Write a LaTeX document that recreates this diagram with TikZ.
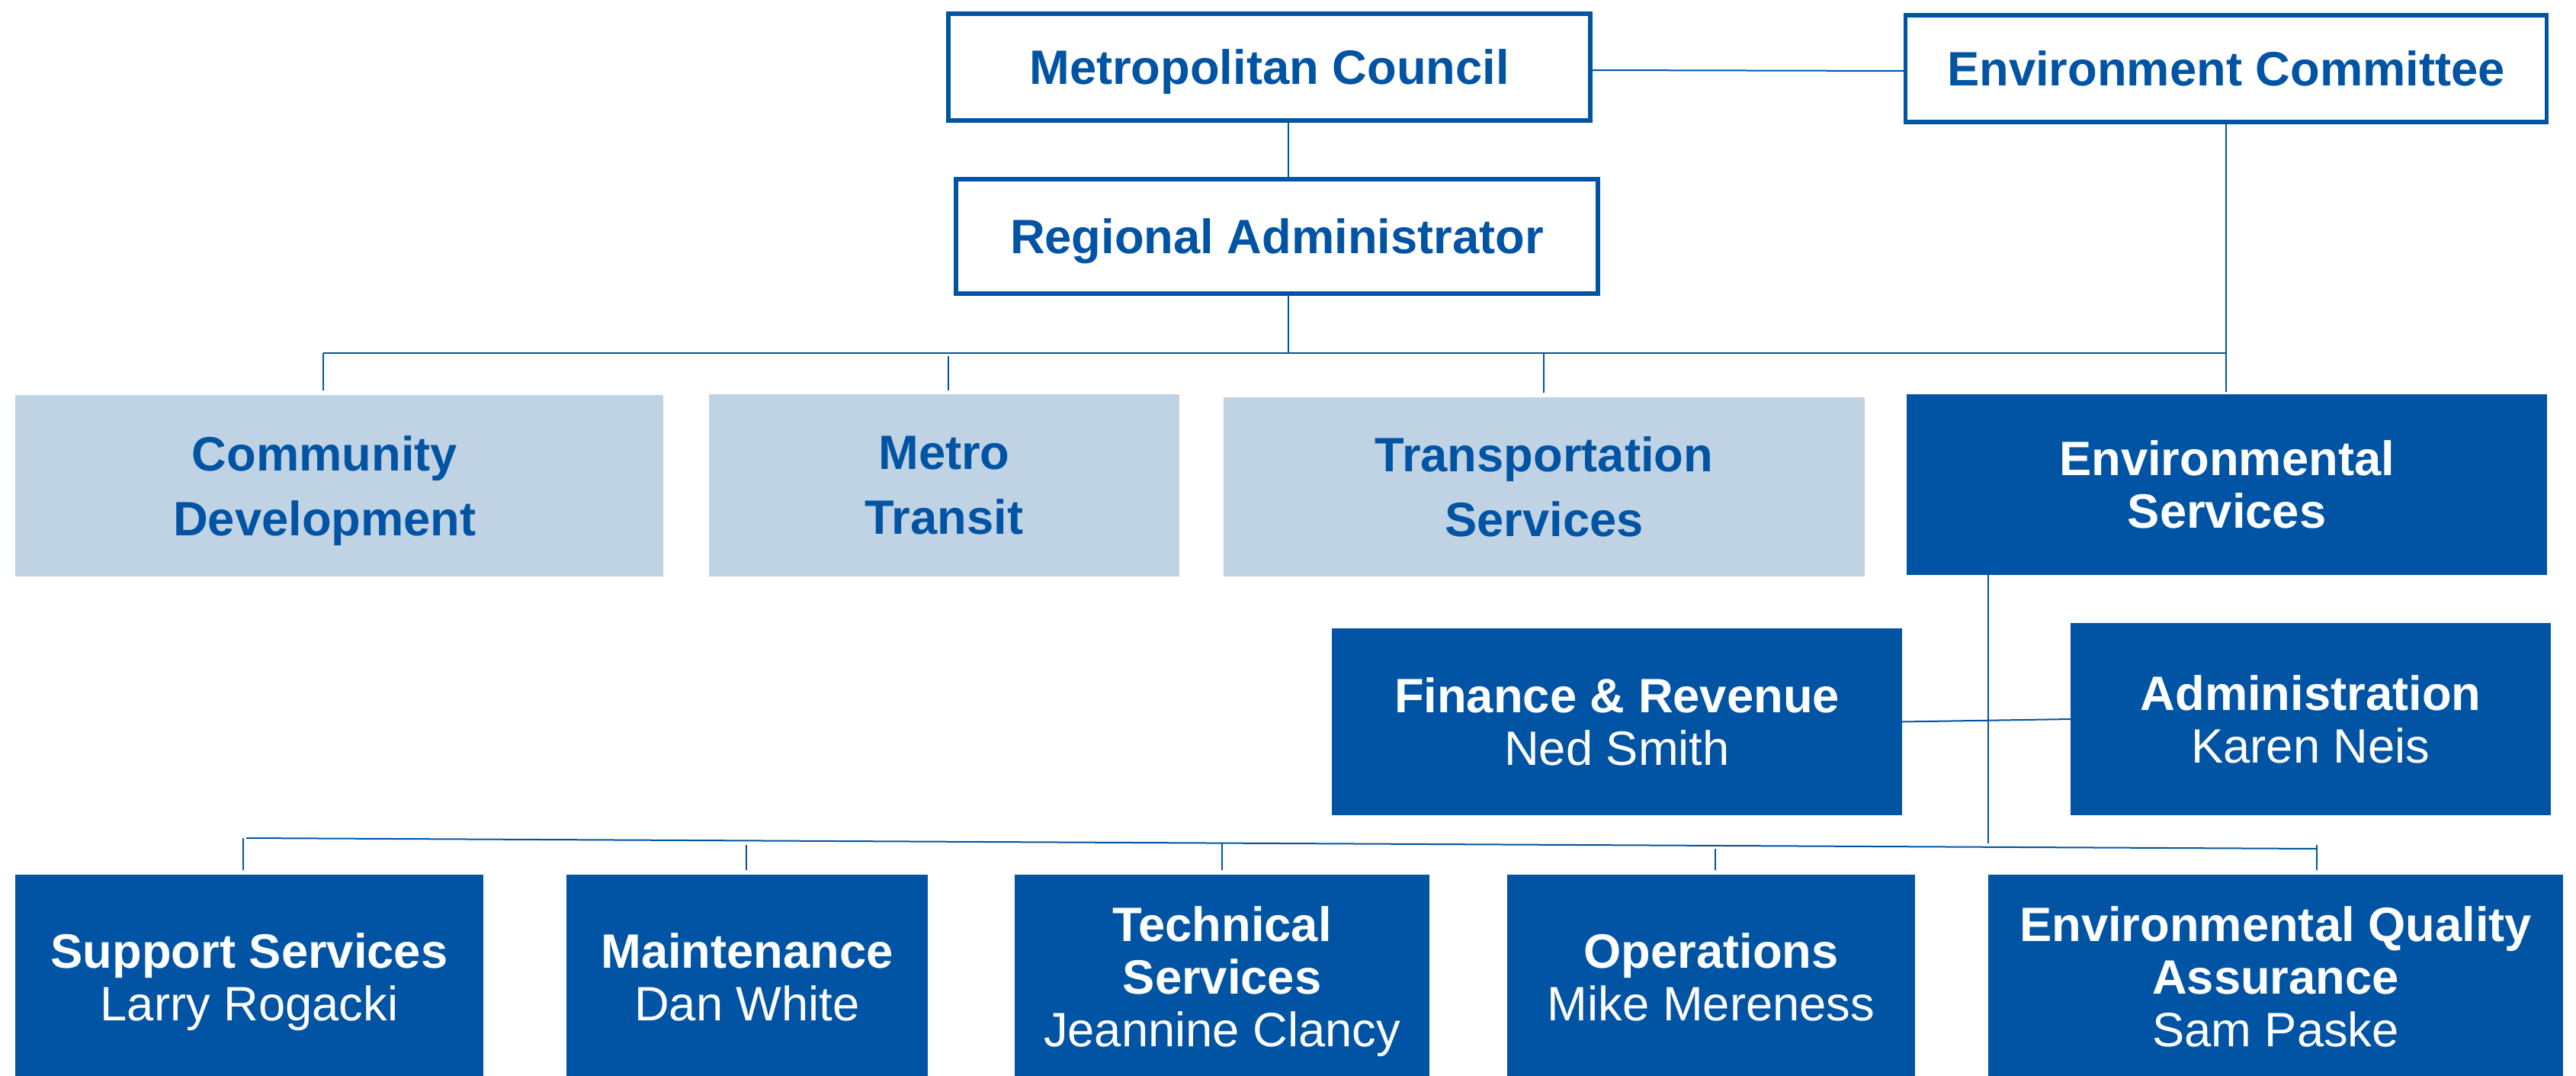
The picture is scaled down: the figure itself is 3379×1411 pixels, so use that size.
\documentclass[tikz,border=0pt]{standalone}
\usepackage{fontspec}
\setmainfont{Liberation Sans}
\definecolor{dblue}{RGB}{1,84,164}
\definecolor{lblue}{RGB}{192,211,228}
\tikzset{
  x=1pt, y=-1pt,
  topbox/.style={draw=dblue, line width=5.5pt, fill=white, text=dblue, inner sep=0pt, outer sep=0pt,
    text depth=0pt, font=\fontsize{63.3}{69}\selectfont\bfseries, align=center},
  lightbox/.style={fill=lblue, text=dblue, inner sep=0pt, outer sep=0pt,
    text depth=0pt, font=\fontsize{63.3}{85}\selectfont\bfseries, align=center},
  lighttext/.style={text=dblue, inner sep=0pt, outer sep=0pt,
    text depth=0pt, font=\fontsize{63.3}{85}\selectfont\bfseries, align=center},
  darkbox/.style={fill=dblue, text=white, inner sep=0pt, outer sep=0pt,
    text depth=0pt, font=\fontsize{63.3}{69}\selectfont, align=center},
  conn/.style={draw=dblue, line width=2pt},
}
\begin{document}
\begin{tikzpicture}
\useasboundingbox (0,0) rectangle (3379,1411);
% top boxes
\node[topbox, minimum width=842, minimum height=140] (mc) at (1665,88) {Metropolitan Council};
\node[topbox, minimum width=841, minimum height=140] (ec) at (2920,90) {Environment Committee};
\node[topbox, minimum width=842, minimum height=150] (ra) at (1675,310) {Regional Administrator};
% second row
\node[lightbox, minimum width=850, minimum height=238] (cd) at (445,637) {};
\node[lighttext] (cdt) at (426,637) {Community\\Development};
\node[lightbox, minimum width=617, minimum height=239] (mt) at (1238.5,636.5) {Metro\\Transit};
\node[lightbox, minimum width=841, minimum height=235] (ts) at (2025.5,638.5) {Transportation\\Services};
\node[darkbox, minimum width=840, minimum height=237] (es) at (2921,635.5) {\bfseries Environmental\\\bfseries Services};
% third row
\node[darkbox, minimum width=748, minimum height=245] (fr) at (2121,946.5) {\textbf{Finance \& Revenue}\\Ned Smith};
\node[darkbox, minimum width=630, minimum height=252] (ad) at (3031,943) {\textbf{Administration}\\Karen Neis};
% bottom row
\node[darkbox, minimum width=614, minimum height=268] (ss) at (327,1281) {\textbf{Support Services}\\Larry Rogacki};
\node[darkbox, minimum width=474, minimum height=268] (mn) at (980,1281) {\textbf{Maintenance}\\Dan White};
\node[darkbox, minimum width=544, minimum height=268] (tc) at (1603,1281) {\textbf{Technical}\\\textbf{Services}\\Jeannine Clancy};
\node[darkbox, minimum width=535, minimum height=268] (op) at (2244.5,1281) {\textbf{Operations}\\Mike Mereness};
\node[darkbox, minimum width=754, minimum height=268] (eq) at (2985,1281) {\textbf{Environmental Quality}\\\textbf{Assurance}\\Sam Paske};
% bus coordinates
\coordinate (b1l) at (424,463);
\coordinate (b1c) at (1690,463);
\coordinate (b1r) at (2920,463);
\coordinate (mtt) at (1244,467);
\coordinate (tst) at (2025,463);
\coordinate (b2l) at (323,1099);
\coordinate (b2r) at (3040,1113);
\coordinate (ssv) at (319,1099);
\coordinate (mnv) at (979,1108);
\coordinate (tcv) at (1603,1106);
\coordinate (opv) at (2250,1113);
\coordinate (eqv) at (3039,1108);
\coordinate (esv) at (2608,1106);
% connectors
\draw[conn] ([yshift=-4pt]mc.east) -- ([yshift=-3pt]ec.west);
\draw[conn] (mc.south -| b1c) -- (ra.north -| b1c);
\draw[conn] (ra.south -| b1c) -- (b1c);
\draw[conn] (b1l) -- (b1r);
\draw[conn] (ec.south -| b1r) -- ([yshift=3pt]es.north -| b1r);
\draw[conn] (b1l) -- ([yshift=6pt]cd.north -| b1l);
\draw[conn] (mtt) -- ([yshift=5pt]mt.north -| mtt);
\draw[conn] (tst) -- ([yshift=6pt]ts.north -| tst);
\draw[conn] (es.south -| esv) -- (esv);
\draw[conn] (fr.east) -- (ad.west);
\draw[conn] (b2l) -- (b2r);
\draw[conn] (ssv) -- ([yshift=6pt]ss.north -| ssv);
\draw[conn] (mnv) -- ([yshift=6pt]mn.north -| mnv);
\draw[conn] (tcv) -- ([yshift=6pt]tc.north -| tcv);
\draw[conn] (opv) -- ([yshift=6pt]op.north -| opv);
\draw[conn] (eqv) -- ([yshift=6pt]eq.north -| eqv);
\end{tikzpicture}
\end{document}
